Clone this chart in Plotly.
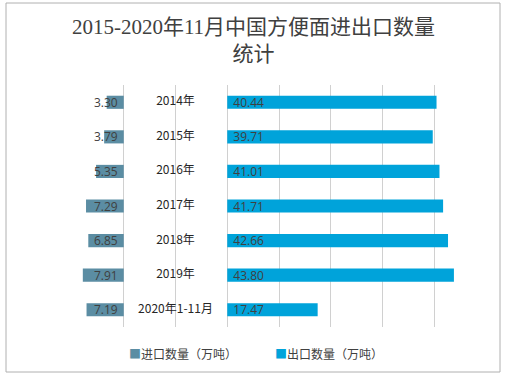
import plotly.graph_objects as go

categories = ["2014年", "2015年", "2016年", "2017年", "2018年", "2019年", "2020年1-11月"]
imports = [3.30, 3.79, 5.35, 7.29, 6.85, 7.91, 7.19]
exports = [40.44, 39.71, 41.01, 41.71, 42.66, 43.80, 17.47]
import_name = "进口数量（万吨）"
export_name = "出口数量（万吨）"
title = "2015-2020年11月中国方便面进出口数量<br>统计"

IMP_COLOR = "#5B8DA3"
EXP_COLOR = "#00A3DA"
GAP = 10  # half-width of the centre label band, in axis units
W, H = 507, 375
ML, MR, MT, MB = 72, 21, 85, 48
pw, ph = W - ML - MR, H - MT - MB

lab_font = dict(family="Open Sans, Noto Sans CJK SC, sans-serif", size=12, color="#404040")
NB = "\u00a0"

fig = go.Figure()
fig.add_trace(go.Bar(
    y=categories, x=[-v for v in imports], base=-GAP, orientation="h",
    name=import_name, marker=dict(color=IMP_COLOR, line=dict(width=0)),
    width=0.38, text=[f"{v:.2f}{NB}" for v in imports],
    textposition="inside", insidetextanchor="start", constraintext="none",
    textfont=lab_font, cliponaxis=False, hoverinfo="skip", showlegend=False,
))
fig.add_trace(go.Bar(
    y=categories, x=exports, base=GAP, orientation="h",
    name=export_name, marker=dict(color=EXP_COLOR, line=dict(width=0)),
    width=0.38, text=[f"{NB}{v:.2f}" for v in exports],
    textposition="inside", insidetextanchor="start", constraintext="none",
    textfont=lab_font, cliponaxis=False, hoverinfo="skip", showlegend=False,
))
fig.add_trace(go.Scatter(
    y=categories, x=[0] * len(categories), mode="text", text=categories,
    textfont=dict(family="Noto Sans CJK SC, sans-serif", size=12, color="#262626"),
    showlegend=False, hoverinfo="skip",
))

def px_x(x):
    return (x - ML) / pw

def px_y(y):
    return (H - MB - y) / ph

# outer border
fig.add_shape(type="rect", xref="paper", yref="paper",
              x0=px_x(6), x1=px_x(500), y0=px_y(372), y1=px_y(3),
              line=dict(color="#B0B0B0", width=1), layer="below")

# legend drawn as annotations
leg_font = dict(family="Noto Sans CJK SC, sans-serif", size=12, color="#404040")
for name, color, x0 in [(import_name, IMP_COLOR, 127), (export_name, EXP_COLOR, 273)]:
    fig.add_annotation(xref="paper", yref="paper", x=px_x(x0), y=px_y(353),
                       xanchor="left", yanchor="middle", showarrow=False,
                       text=f"<span style='color:{color}'>■</span>{name}", font=leg_font)

fig.update_layout(
    width=W, height=H, barmode="overlay",
    margin=dict(l=ML, r=MR, t=MT, b=MB, autoexpand=False),
    paper_bgcolor="white", plot_bgcolor="white",
    title=dict(text=title, x=0.5, xanchor="center", xref="container",
               y=1 - 33.5 / H, yanchor="middle",
               font=dict(family="Liberation Serif, Noto Sans CJK SC, serif", size=21, color="#404040")),
    xaxis=dict(range=[-20, 60], dtick=10, tick0=0, showticklabels=False,
               showgrid=True, gridcolor="#D0D0D0", gridwidth=1,
               zeroline=False, showline=False, fixedrange=True),
    yaxis=dict(autorange="reversed", showticklabels=False, showgrid=False,
               zeroline=False, showline=False),
    showlegend=False,
)

fig.write_html("out.html", config={"displayModeBar": False},
               post_script="document.body.style.margin='0';document.body.style.overflow='hidden';")
